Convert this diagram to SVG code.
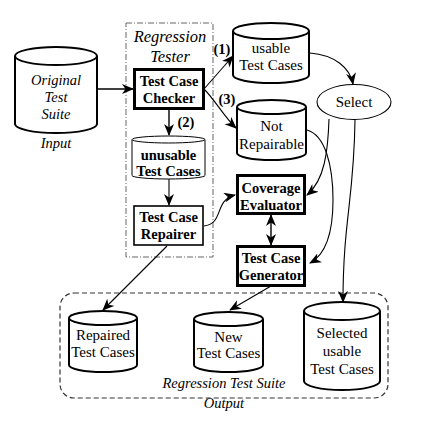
<svg xmlns="http://www.w3.org/2000/svg" width="427" height="424" viewBox="0 0 427 424" font-family="'Liberation Serif','Times New Roman',serif">
<defs>
<marker id="ah" viewBox="0 0 12 10" refX="11" refY="5" markerWidth="12" markerHeight="10" markerUnits="userSpaceOnUse" orient="auto-start-reverse">
<path d="M0,0 L12,5 L0,10 L3.5,5 Z" fill="#000"/>
</marker>
</defs>
<style>
text{font-family:"Liberation Serif","Times New Roman",serif;font-size:15px;text-anchor:middle;fill:#000}
.b{font-weight:bold;font-size:14.5px}
.i{font-style:italic;font-size:14.5px}
.t{font-style:italic;font-size:16.5px}
.cyl{fill:#fff;stroke:#000;stroke-width:2}
.thin{stroke-width:1}
.box{fill:#fff;stroke:#000;stroke-width:3}
.con{fill:none;stroke:#000;stroke-width:1.1;marker-end:url(#ah)}
</style>
<rect width="427" height="424" fill="#fff"/>
<g id="regression-tester">
<rect x="126" y="23" width="87" height="234" fill="none" stroke="#666" stroke-width="1" stroke-dasharray="6,2,1,2"/>
<text class="t" x="170" y="42">Regression</text>
<text class="t" x="170" y="62">Tester</text>
</g>
<g id="output">
<rect x="60" y="293" width="328" height="105" rx="14" fill="none" stroke="#333" stroke-width="1.2" stroke-dasharray="5,3"/>
<text class="i" x="224" y="388">Regression Test Suite</text>
<text class="i" x="224" y="408">Output</text>
</g>
<g id="original">
<path class="cyl" d="M15,56 V124 A41,9 0 0 0 97,124 V56"/>
<ellipse class="cyl" cx="56" cy="56" rx="41" ry="9"/>
<text class="i" x="56" y="85">Original</text>
<text class="i" x="56" y="102">Test</text>
<text class="i" x="56" y="119">Suite</text>
<text class="i" x="56" y="148">Input</text>
</g>
<g id="checker">
<rect class="box" x="134.5" y="69.5" width="69" height="39"/>
<text class="b" x="169" y="86">Test Case</text>
<text class="b" x="169" y="103">Checker</text>
</g>
<g id="unusable">
<path class="cyl thin" d="M132,139.5 V175.5 A36.5,3.5 0 0 0 205,175.5 V139.5"/>
<ellipse class="cyl thin" cx="168.5" cy="139.5" rx="36.5" ry="3.5"/>
<text class="b" x="168.5" y="160">unusable</text>
<text class="b" x="168.5" y="176">Test Cases</text>
</g>
<g id="repairer">
<rect x="134" y="206" width="69" height="39" fill="#fff" stroke="#000" stroke-width="1.6"/>
<text class="b" x="168.5" y="222">Test Case</text>
<text class="b" x="168.5" y="239">Repairer</text>
</g>
<g id="usable">
<path class="cyl" d="M233,31 V75 A38,8 0 0 0 309,75 V31"/>
<ellipse class="cyl" cx="271" cy="31" rx="38" ry="8"/>
<text x="271" y="53">usable</text>
<text x="271" y="70">Test Cases</text>
</g>
<g id="not-repairable">
<path class="cyl" d="M237,107 V153 A34.5,7 0 0 0 306,153 V107"/>
<ellipse class="cyl" cx="271.5" cy="107" rx="34.5" ry="7"/>
<text x="271.5" y="131">Not</text>
<text x="271.5" y="149">Repairable</text>
</g>
<g id="select">
<ellipse cx="354" cy="102" rx="37" ry="17.5" fill="#fff" stroke="#000" stroke-width="1.1"/>
<text x="354" y="107">Select</text>
</g>
<g id="coverage">
<rect class="box" x="237.5" y="175.5" width="67" height="38"/>
<text class="b" x="271" y="193">Coverage</text>
<text class="b" x="271" y="210">Evaluator</text>
</g>
<g id="generator">
<rect class="box" x="237.5" y="246.5" width="67" height="39"/>
<text class="b" x="271" y="263">Test Case</text>
<text class="b" x="271" y="280">Generator</text>
</g>
<g id="repaired">
<path class="cyl" d="M69,318 V365 A34,7 0 0 0 137,365 V318"/>
<ellipse class="cyl" cx="103" cy="318" rx="34" ry="7"/>
<text x="103" y="340">Repaired</text>
<text x="103" y="357">Test Cases</text>
</g>
<g id="new">
<path class="cyl" d="M194,319 V365 A34.5,7 0 0 0 263,365 V319"/>
<ellipse class="cyl" cx="228.5" cy="319" rx="34.5" ry="7"/>
<text x="228.5" y="342">New</text>
<text x="228.5" y="358">Test Cases</text>
</g>
<g id="selected">
<path class="cyl" d="M304,311 V381 A38,9 0 0 0 380,381 V311"/>
<ellipse class="cyl" cx="342" cy="311" rx="38" ry="9"/>
<text x="342" y="338">Selected</text>
<text x="342" y="356">usable</text>
<text x="342" y="374">Test Cases</text>
</g>
<g id="connectors">
<line class="con" x1="97" y1="89" x2="133" y2="89" style="stroke-width:1.4"/>
<line class="con" x1="169" y1="110" x2="169" y2="135" style="stroke-width:1.4"/>
<text class="b" x="186" y="127">(2)</text>
<line class="con" x1="169" y1="179" x2="169" y2="205"/>
<path class="con" d="M204,89 L233,56"/>
<text class="b" x="222" y="54">(1)</text>
<path class="con" d="M204,89 C215,100 225,118 236,128"/>
<text class="b" x="227" y="104">(3)</text>
<path class="con" d="M310,53 C335,55 350,68 353,84"/>
<path class="con" d="M204,226 C224,224 214,200 235,195"/>
<path class="con" d="M307,130 C325,135 333,165 333,200 C333,235 325,255 310,263"/>
<path class="con" d="M329,119 C328,150 325,180 307,195"/>
<path class="con" d="M355,120 C354,200 343,220 343,302"/>
<line class="con" x1="271" y1="215" x2="271" y2="245" style="marker-start:url(#ah);stroke-width:1.4"/>
<line class="con" x1="167" y1="246" x2="103" y2="310"/>
<line class="con" x1="271" y1="286" x2="230" y2="310"/>
</g>
</svg>
